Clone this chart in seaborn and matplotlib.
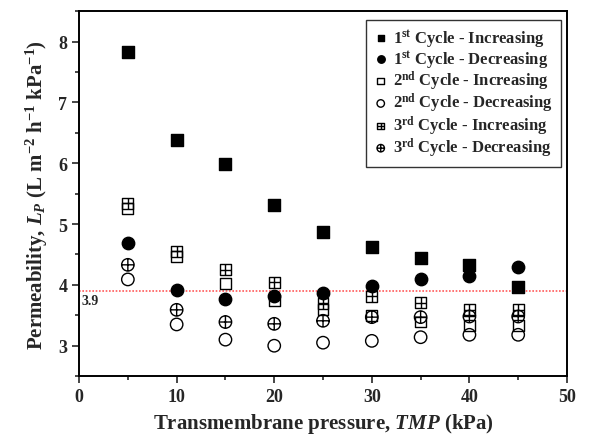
import numpy as np
import pandas as pd
import matplotlib
matplotlib.use("Agg")
import matplotlib.pyplot as plt
from matplotlib.path import Path
from matplotlib.ticker import MultipleLocator
import seaborn as sns

# ---- data ----
tmp = [5, 10, 15, 20, 25, 30, 35, 40, 45]
c1_inc = [7.83, 6.39, 5.98, 5.32, 4.87, 4.63, 4.45, 4.33, 3.97]
c1_dec = [4.69, 3.92, 3.77, 3.81, 3.86, 3.99, 4.10, 4.15, 4.30]
c2_inc = [5.26, 4.46, 4.02, 3.74, 3.60, 3.49, 3.39, 3.33, 3.33]
c2_dec = [4.09, 3.35, 3.10, 3.00, 3.05, 3.08, 3.14, 3.18, 3.18]
c3_inc = [5.34, 4.55, 4.25, 4.04, 3.70, 3.81, 3.71, 3.59, 3.59]
c3_dec = [4.33, 3.59, 3.39, 3.36, 3.41, 3.47, 3.47, 3.48, 3.48]
labels = [r"1$^{\mathbf{st}}$ Cycle - Increasing",
          r"1$^{\mathbf{st}}$ Cycle - Decreasing",
          r"2$^{\mathbf{nd}}$ Cycle - Increasing",
          r"2$^{\mathbf{nd}}$ Cycle - Decreasing",
          r"3$^{\mathbf{rd}}$ Cycle - Increasing",
          r"3$^{\mathbf{rd}}$ Cycle - Decreasing"]
ref_value = 3.9

sns.set_style("ticks")
plt.rcParams["font.family"] = ["Liberation Serif", "DejaVu Serif"]
plt.rcParams["font.weight"] = "bold"
plt.rcParams["mathtext.fontset"] = "custom"
plt.rcParams["mathtext.rm"] = "Liberation Serif:bold"
plt.rcParams["mathtext.it"] = "Liberation Serif:italic:bold"
plt.rcParams["mathtext.bf"] = "Liberation Serif:bold"

# custom markers
sq_cross = Path(
    [(-1, -1), (1, -1), (1, 1), (-1, 1), (-1, -1),
     (-1, 0), (1, 0), (0, -1), (0, 1)],
    [Path.MOVETO, Path.LINETO, Path.LINETO, Path.LINETO, Path.CLOSEPOLY,
     Path.MOVETO, Path.LINETO, Path.MOVETO, Path.LINETO])
circ = Path.unit_circle()
plus = Path([(-1, 0), (1, 0), (0, -1), (0, 1)],
            [Path.MOVETO, Path.LINETO, Path.MOVETO, Path.LINETO])
circ_plus = Path.make_compound_path(circ, plus)

fig = plt.figure(figsize=(5.9, 4.35), dpi=100)
ax = fig.add_axes([0.134, 0.133, 0.827, 0.839])

series = [
    (c1_inc, "s", "black", 66),
    (c1_dec, "o", "black", 80),
    (c2_inc, "s", "none", 62),
    (c2_dec, "o", "none", 80),
    (c3_inc, sq_cross, "none", 62),
    (c3_dec, circ_plus, "none", 80),
]
for (vals, mk, fc, s), lab in zip(series, labels):
    df = pd.DataFrame({"TMP": tmp, "Lp": vals})
    sns.scatterplot(data=df, x="TMP", y="Lp", ax=ax, marker=mk, s=s,
                    facecolor=fc, edgecolor="black", linewidth=1.0,
                    color="black", label=lab, zorder=3)

ax.axhline(ref_value, color="#ff5a5a", linestyle=(0, (1, 1)), linewidth=1.2, zorder=2)
ax.text(0.3, ref_value - 0.05, "3.9", fontsize=10, fontweight="bold",
        va="top", ha="left")

ax.set_xlim(0, 50)
ax.set_ylim(2.5, 8.5)
ax.xaxis.set_major_locator(MultipleLocator(10))
ax.xaxis.set_minor_locator(MultipleLocator(5))
ax.yaxis.set_major_locator(MultipleLocator(1))
ax.yaxis.set_minor_locator(MultipleLocator(0.5))
ax.tick_params(which="major", direction="out", length=5, width=1.2,
               labelsize=13)
ax.tick_params(which="minor", direction="out", length=3, width=1.2)
for lab in ax.get_xticklabels() + ax.get_yticklabels():
    lab.set_fontweight("bold")
for sp in ax.spines.values():
    sp.set_visible(True)
    sp.set_linewidth(1.4)
    sp.set_color("black")

ax.set_xlabel(r"Transmembrane pressure, $\mathit{TMP}$ (kPa)", fontsize=15,
              fontweight="bold", labelpad=4)
ax.set_ylabel(r"Permeability, $L_P$ (L m$^{-2}$ h$^{-1}$ kPa$^{-1}$)",
              fontsize=15, fontweight="bold", labelpad=6)

leg = ax.legend(loc="upper right", bbox_to_anchor=(0.997, 0.99),
                frameon=True, fancybox=False, edgecolor="black",
                prop={"family": "Liberation Serif", "weight": "bold", "size": 12},
                handletextpad=0.3, labelspacing=-0.05, borderpad=0.45,
                handlelength=0.9, markerscale=0.6, borderaxespad=0.3)
leg.get_frame().set_linewidth(1.0)

fig.savefig("out.png", dpi=100)
